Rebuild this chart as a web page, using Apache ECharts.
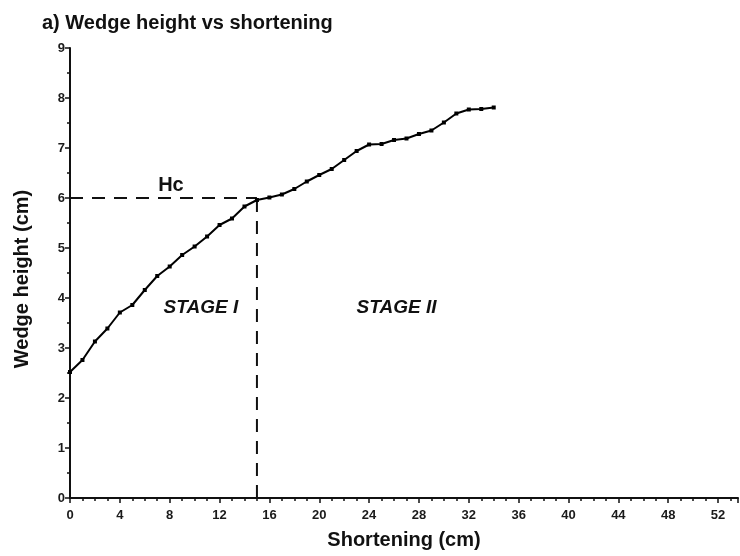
<!DOCTYPE html>
<html>
<head>
<meta charset="utf-8">
<script src="https://cdn.jsdelivr.net/npm/echarts@6/dist/echarts.min.js"></script>
<style>html,body{margin:0;padding:0;background:#fff}#c{width:740px;height:556px}</style>
</head>
<body>
<div id="c"></div>
<script>
const shortening = [0,1,2,3,4,5,6,7,8,9,10,11,12,13,14,15,16,17,18,19,20,21,22,23,24,25,26,27,28,29,30,31,32,33,34];
const wedgeHeight = [2.52,2.76,3.13,3.39,3.71,3.86,4.16,4.44,4.63,4.86,5.03,5.23,5.46,5.59,5.83,5.96,6.01,6.07,6.18,6.33,6.46,6.58,6.76,6.94,7.07,7.08,7.16,7.19,7.28,7.35,7.51,7.69,7.77,7.78,7.81];
const criticalX = 15;
const criticalH = 6;
const xTicks = [0,4,8,12,16,20,24,28,32,36,40,44,48,52];
const yTicks = [0,1,2,3,4,5,6,7,8,9];
const labels = [
  {text:'Hc', x:8.1, y:6.26, italic:false, size:20},
  {text:'STAGE I', x:10.5, y:3.8, italic:true, size:19},
  {text:'STAGE II', x:26.2, y:3.8, italic:true, size:19}
];

const chart = echarts.init(document.getElementById('c'));
const FONT = '"Liberation Sans", Arial, Helvetica, sans-serif';
chart.setOption({
  animation:false,
  title:{text:'a) Wedge height vs shortening', left:37, top:8,
    textStyle:{fontFamily:FONT, fontWeight:'bold', fontSize:20, color:'#111'}},
  grid:{left:70, top:48, right:2, bottom:58, containLabel:false},
  xAxis:{type:'value', min:0, max:53.6, interval:4,
    name:'Shortening (cm)', nameLocation:'middle', nameGap:32,
    nameTextStyle:{fontFamily:FONT, fontWeight:'bold', fontSize:20, color:'#111'},
    axisLine:{lineStyle:{color:'#111', width:2}},
    axisTick:{show:true, length:5, lineStyle:{color:'#111', width:1.5}},
    minorTick:{show:true, splitNumber:4, length:3, lineStyle:{color:'#111', width:1.5}},
    splitLine:{show:false},
    axisLabel:{fontFamily:FONT, fontWeight:'bold', fontSize:13, color:'#1a1a1a', margin:11,
      showMaxLabel:false,
      formatter:v=> xTicks.includes(v) ? String(v) : ''}
  },
  yAxis:{type:'value', min:0, max:9, interval:1,
    name:'Wedge height (cm)', nameLocation:'middle', nameGap:38, nameRotate:90,
    nameTextStyle:{fontFamily:FONT, fontWeight:'bold', fontSize:20, color:'#111', padding:[0,12,0,0]},
    axisLine:{show:true, lineStyle:{color:'#111', width:2}},
    axisTick:{show:true, length:5, lineStyle:{color:'#111', width:1.5}},
    minorTick:{show:true, splitNumber:2, length:3, lineStyle:{color:'#111', width:1.5}},
    splitLine:{show:false},
    axisLabel:{fontFamily:FONT, fontWeight:'bold', fontSize:13, color:'#1a1a1a', margin:5,
      formatter:v=> yTicks.includes(v) ? String(v) : ''}
  },
  series:[
    {type:'line', data:[[0,criticalH],[criticalX,criticalH]], symbol:'none', silent:true,
      lineStyle:{color:'#111', width:2, type:[13,9]}},
    {type:'line', data:[[criticalX,0],[criticalX,criticalH]], symbol:'none', silent:true,
      lineStyle:{color:'#111', width:2, type:[13,9]}},
    {type:'line', data:shortening.map((x,i)=>[x, wedgeHeight[i]]),
      symbol:'rect', symbolSize:4, showSymbol:true,
      itemStyle:{color:'#000'}, lineStyle:{color:'#000', width:2}},
    {type:'scatter', data:labels.map(l=>({value:[l.x,l.y],
        label:{show:true, position:'inside', formatter:l.text,
          fontFamily:FONT, fontWeight:'bold', fontStyle:l.italic?'italic':'normal',
          fontSize:l.size, color:'#111', textBorderWidth:0}})),
      itemStyle:{opacity:1, color:'#111'},
      symbolSize:0, silent:true}
  ]
});
</script>
</body>
</html>
